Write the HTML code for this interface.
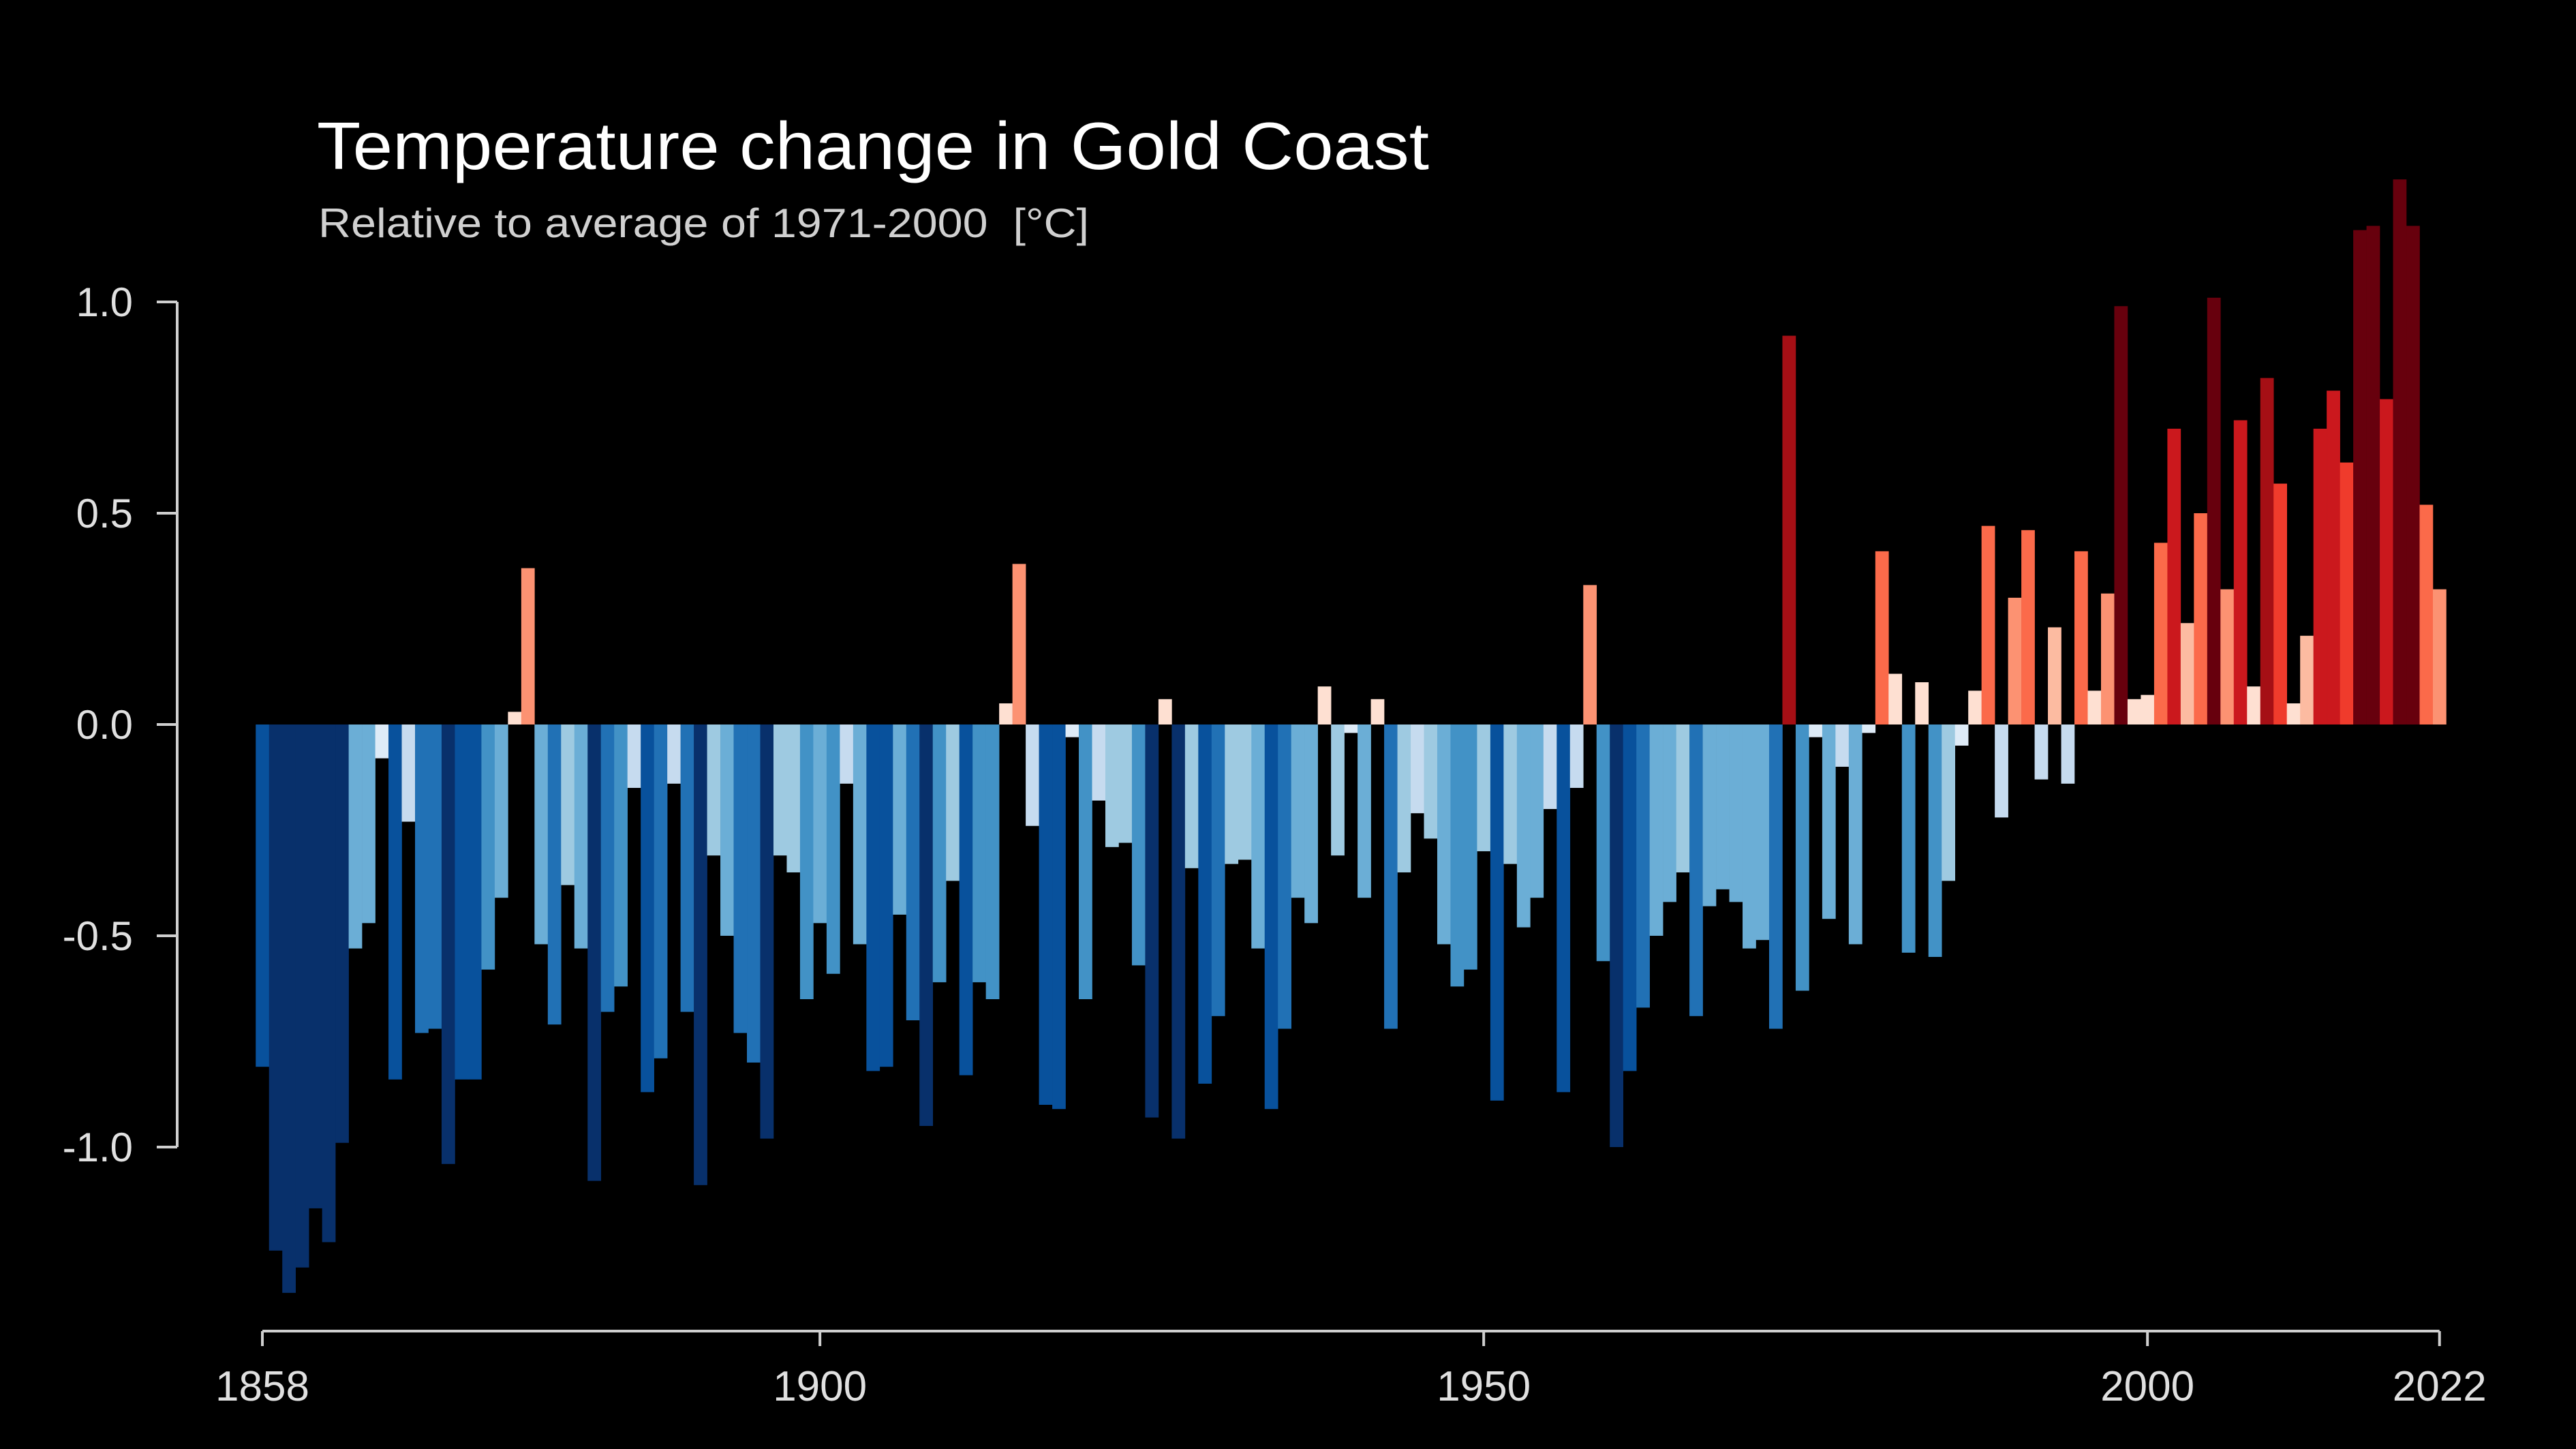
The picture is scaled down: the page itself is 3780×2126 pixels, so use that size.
<!DOCTYPE html>
<html><head><meta charset="utf-8">
<style>
html,body{margin:0;padding:0;background:#000;}
svg{display:block;}
text{font-family:"Liberation Sans",sans-serif;}
</style></head>
<body>
<svg id="chart" width="3780" height="2126" viewBox="0 0 3780 2126" xmlns="http://www.w3.org/2000/svg">
<rect x="0" y="0" width="3780" height="2126" fill="#000"/>
<text x="465" y="248" font-size="98" fill="#fff" textLength="1632" lengthAdjust="spacingAndGlyphs">Temperature change in Gold Coast</text>
<text x="467" y="348" font-size="60" fill="#d0d0d0" textLength="1131" lengthAdjust="spacingAndGlyphs" xml:space="preserve">Relative to average of 1971-2000  [°C]</text>
<g id="bars"></g>
<g id="axes"></g>
</svg>
<script>
const startYear = 1858;
const anomalies = [
-0.81,-1.245,-1.345,-1.285,-1.145,-1.225,-0.99,-0.53,-0.47,-0.08,
-0.84,-0.23,-0.73,-0.72,-1.04,-0.84,-0.84,-0.58,-0.41,0.03,
0.37,-0.52,-0.71,-0.38,-0.53,-1.08,-0.68,-0.62,-0.15,-0.87,
-0.79,-0.14,-0.68,-1.09,-0.31,-0.50,-0.73,-0.80,-0.98,-0.31,
-0.35,-0.65,-0.47,-0.59,-0.14,-0.52,-0.82,-0.81,-0.45,-0.70,
-0.95,-0.61,-0.37,-0.83,-0.61,-0.65,0.05,0.38,-0.24,-0.90,
-0.91,-0.03,-0.65,-0.18,-0.29,-0.28,-0.57,-0.93,0.06,-0.98,
-0.34,-0.85,-0.69,-0.33,-0.32,-0.53,-0.91,-0.72,-0.41,-0.47,
0.09,-0.31,-0.02,-0.41,0.06,-0.72,-0.35,-0.21,-0.27,-0.52,
-0.62,-0.58,-0.30,-0.89,-0.33,-0.48,-0.41,-0.20,-0.87,-0.15,
0.33,-0.56,-1.00,-0.82,-0.67,-0.50,-0.42,-0.35,-0.69,-0.43,
-0.39,-0.42,-0.53,-0.51,-0.72,0.92,-0.63,-0.03,-0.46,-0.10,
-0.52,-0.02,0.41,0.12,-0.54,0.10,-0.55,-0.37,-0.05,0.08,
0.47,-0.22,0.30,0.46,-0.13,0.23,-0.14,0.41,0.08,0.31,
0.99,0.06,0.07,0.43,0.70,0.24,0.50,1.01,0.32,0.72,
0.09,0.82,0.57,0.05,0.21,0.70,0.79,0.62,1.17,1.18,
0.77,1.29,1.18,0.52,0.32
];
const yTicks = [1.0, 0.5, 0.0, -0.5, -1.0];
const yTickLabels = ["1.0","0.5","0.0","-0.5","-1.0"];
const xTicks = [1858, 1900, 1950, 2000, 2022];

const NS = "http://www.w3.org/2000/svg";
function xScale(year){ return 385 + (year - 1858) * 19.48; }
function yScale(v){ return 1063 - 620 * v; }
function colorFor(v){
  if (v < 0){
    if (v <= -0.92) return "#08306b";
    if (v <= -0.81) return "#08519c";
    if (v <= -0.67) return "#2171b5";
    if (v <= -0.54) return "#4292c6";
    if (v <= -0.39) return "#6baed6";
    if (v <= -0.25) return "#9ecae1";
    if (v <= -0.10) return "#c6dbef";
    return "#deebf7";
  }
  if (v < 0.15) return "#fee0d2";
  if (v < 0.27) return "#fcbba1";
  if (v < 0.40) return "#fc9272";
  if (v < 0.55) return "#fb6a4a";
  if (v < 0.65) return "#ef3b2c";
  if (v < 0.80) return "#cb181d";
  if (v < 0.95) return "#a50f15";
  return "#67000d";
}
const barsG = document.getElementById("bars");
const bw = 19.48;
anomalies.forEach((v, i) => {
  const year = startYear + i;
  const r = document.createElementNS(NS, "rect");
  const y0 = yScale(0), y1 = yScale(v);
  r.setAttribute("x", xScale(year) - bw / 2);
  r.setAttribute("width", bw + 0.3);
  r.setAttribute("y", Math.min(y0, y1));
  r.setAttribute("height", Math.abs(y1 - y0));
  r.setAttribute("fill", colorFor(v));
  
  
  barsG.appendChild(r);
});

const axesG = document.getElementById("axes");
const axisColor = "#cfcfcf";
const yl = document.createElementNS(NS, "line");
yl.setAttribute("x1", 260); yl.setAttribute("x2", 260);
yl.setAttribute("y1", yScale(1.0)); yl.setAttribute("y2", yScale(-1.0));
yl.setAttribute("stroke", axisColor); yl.setAttribute("stroke-width", 4);


axesG.appendChild(yl);
yTicks.forEach((t, i) => {
  const y = yScale(t);
  const tl = document.createElementNS(NS, "line");
  tl.setAttribute("x1", 230); tl.setAttribute("x2", 260);
  tl.setAttribute("y1", y); tl.setAttribute("y2", y);
  tl.setAttribute("stroke", axisColor); tl.setAttribute("stroke-width", 4);
  
  
  axesG.appendChild(tl);
  const tx = document.createElementNS(NS, "text");
  tx.setAttribute("x", 195); tx.setAttribute("y", y + 21);
  tx.setAttribute("text-anchor", "end");
  tx.setAttribute("font-size", 60);
  tx.setAttribute("fill", "#e0e0e0");
  tx.textContent = yTickLabels[i];
  
  
  axesG.appendChild(tx);
});
const xl = document.createElementNS(NS, "line");
xl.setAttribute("x1", xScale(1858)); xl.setAttribute("x2", xScale(2022));
xl.setAttribute("y1", 1953); xl.setAttribute("y2", 1953);
xl.setAttribute("stroke", axisColor); xl.setAttribute("stroke-width", 4);


axesG.appendChild(xl);
xTicks.forEach(t => {
  const x = xScale(t);
  const tl = document.createElementNS(NS, "line");
  tl.setAttribute("x1", x); tl.setAttribute("x2", x);
  tl.setAttribute("y1", 1953); tl.setAttribute("y2", 1975);
  tl.setAttribute("stroke", axisColor); tl.setAttribute("stroke-width", 4);
  
  
  axesG.appendChild(tl);
  const tx = document.createElementNS(NS, "text");
  tx.setAttribute("x", x); tx.setAttribute("y", 2055);
  tx.setAttribute("text-anchor", "middle");
  tx.setAttribute("font-size", 62);
  tx.setAttribute("fill", "#e0e0e0");
  tx.textContent = String(t);
  
  
  axesG.appendChild(tx);
});
</script>
</body></html>
